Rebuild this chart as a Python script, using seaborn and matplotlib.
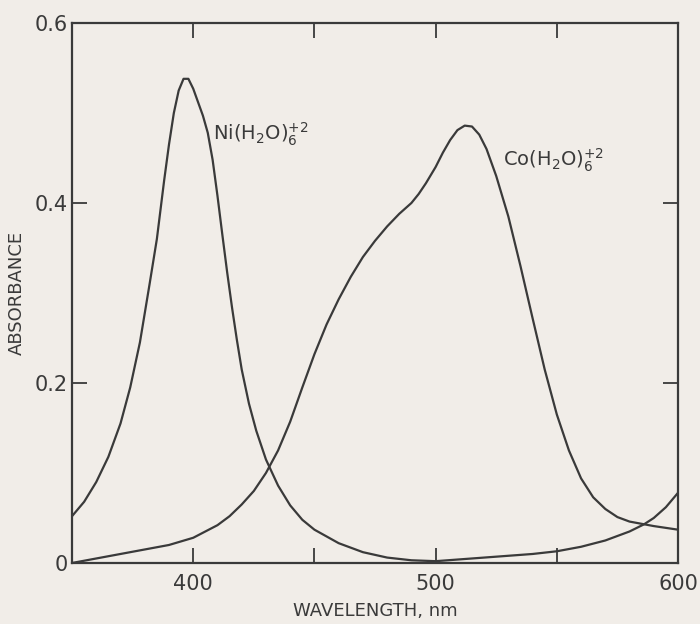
import pandas as pd
import matplotlib.pyplot as plt
import seaborn as sns

# absorbance spectra
ni_wl = [350, 355, 360, 365, 370, 374, 378, 382, 385, 388, 390, 392, 394, 396, 398,
         400, 402, 404, 406, 408, 410, 412, 414, 416, 418, 420, 423, 426, 430, 435,
         440, 445, 450, 460, 470, 480, 490, 500, 510, 520, 530, 540, 550, 560, 570,
         580, 586, 590, 595, 600]
ni_abs = [0.052, 0.068, 0.09, 0.118, 0.155, 0.195, 0.245, 0.31, 0.36, 0.425, 0.465,
          0.5, 0.525, 0.538, 0.538, 0.527, 0.512, 0.497, 0.478, 0.448, 0.408, 0.365,
          0.323, 0.284, 0.248, 0.215, 0.177, 0.147, 0.115, 0.086, 0.064, 0.048, 0.037,
          0.022, 0.012, 0.006, 0.003, 0.002, 0.004, 0.006, 0.008, 0.010, 0.013, 0.018,
          0.025, 0.035, 0.043, 0.05, 0.062, 0.078]

co_wl = [350, 360, 370, 380, 390, 400, 410, 415, 420, 425, 430, 435, 440, 445, 450,
         455, 460, 465, 470, 475, 480, 485, 490, 493, 496, 500, 503, 506, 509, 512,
         515, 518, 521, 525, 530, 535, 540, 545, 550, 555, 560, 565, 570, 575, 580,
         586, 590, 595, 600]
co_abs = [0.0, 0.005, 0.01, 0.015, 0.02, 0.028, 0.042, 0.052, 0.065, 0.08, 0.10, 0.125,
          0.157, 0.195, 0.232, 0.265, 0.293, 0.318, 0.34, 0.358, 0.374, 0.388, 0.40,
          0.41, 0.422, 0.44, 0.456, 0.47, 0.481, 0.486, 0.485, 0.476, 0.46, 0.43,
          0.385, 0.33, 0.272, 0.215, 0.165, 0.125, 0.094, 0.073, 0.06, 0.051, 0.046,
          0.043, 0.041, 0.039, 0.037]

x_ticks = [350, 400, 450, 500, 550, 600]
x_labels = ['', '400', '', '500', '', '600']
y_ticks = [0, 0.2, 0.4, 0.6]
y_labels = ['0', '0.2', '0.4', '0.6']

ink = '#3a3a3a'
paper = '#f1ede8'

sns.set_style('ticks')
plt.rcParams['font.family'] = ['DejaVu Sans']
plt.rcParams['mathtext.fontset'] = 'dejavusans'

fig = plt.figure(figsize=(7, 6.24), dpi=100, facecolor=paper)
ax = fig.add_axes([0.1029, 0.0978, 0.8657, 0.8653])
ax.set_facecolor(paper)

ni = pd.DataFrame({'wl': ni_wl, 'abs': ni_abs})
co = pd.DataFrame({'wl': co_wl, 'abs': co_abs})
sns.lineplot(data=ni, x='wl', y='abs', ax=ax, color=ink, lw=1.6)
sns.lineplot(data=co, x='wl', y='abs', ax=ax, color=ink, lw=1.6)

ax.set_xlim(350, 600)
ax.set_ylim(0, 0.6)
ax.set_xticks(x_ticks)
ax.set_xticklabels(x_labels)
ax.set_yticks(y_ticks)
ax.set_yticklabels(y_labels)
ax.tick_params(axis='both', direction='in', length=11, width=1.3, color=ink,
               labelcolor=ink, labelsize=15, top=True, right=True)
ax.tick_params(axis='x', pad=8)
ax.tick_params(axis='y', pad=3)
for s in ax.spines.values():
    s.set_color(ink)
    s.set_linewidth(1.6)

ax.set_xlabel('WAVELENGTH, nm', fontsize=13, color=ink, labelpad=6)
ax.set_ylabel('ABSORBANCE', fontsize=13, color=ink, labelpad=6)

ax.text(408, 0.476, r'Ni(H$_2$O)$_6^{+2}$', fontsize=14, color=ink, va='center')
ax.text(528, 0.448, r'Co(H$_2$O)$_6^{+2}$', fontsize=14, color=ink, va='center')

plt.savefig('out.png', dpi=100, facecolor=paper)
